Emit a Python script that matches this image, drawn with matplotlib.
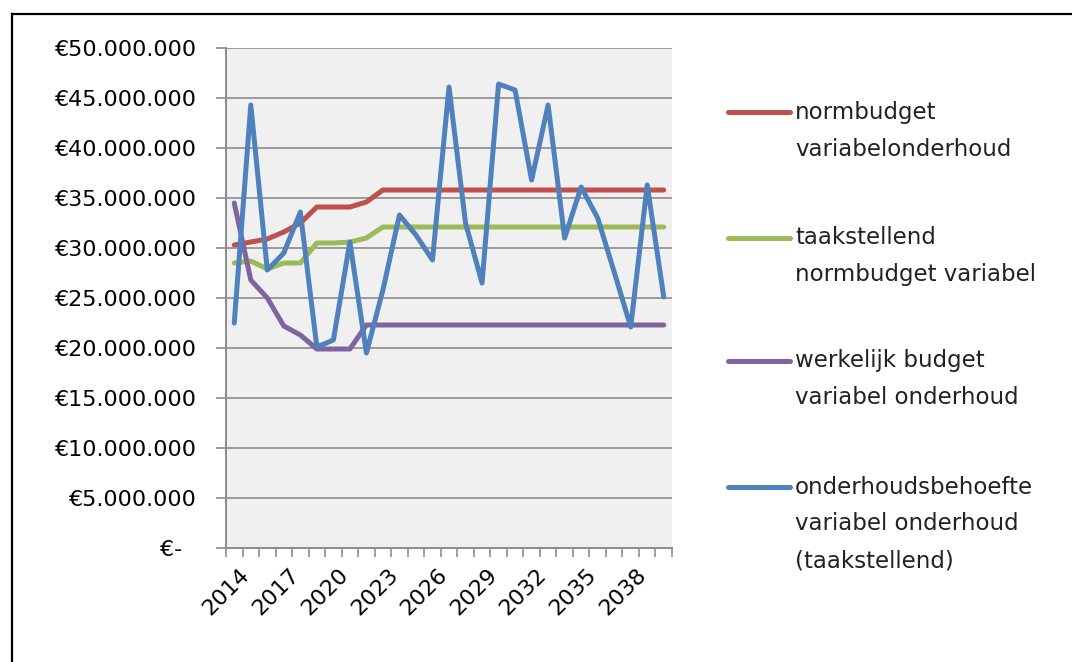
import matplotlib
matplotlib.use("Agg")
import matplotlib.pyplot as plt
import matplotlib.transforms as mtransforms
from matplotlib.lines import Line2D
from matplotlib.ticker import FixedLocator, FuncFormatter

# Jaren en bedragen (in miljoen euro) per reeks
years = list(range(2014, 2041))

normbudget = [30.3, 30.6, 30.9, 31.6, 32.5, 34.1, 34.1, 34.1, 34.6] + [35.8] * 18
taakstellend = [28.5, 28.7, 27.9, 28.5, 28.5, 30.5, 30.5, 30.6, 31.0] + [32.1] * 18
werkelijk = [34.5, 26.8, 25.0, 22.2, 21.3, 19.9, 19.9, 19.9, 22.3] + [22.3] * 18
behoefte = [22.5, 44.3, 27.8, 29.5, 33.6, 20.1, 20.8, 30.6, 19.5, 25.8,
            33.3, 31.3, 28.8, 46.1, 32.5, 26.5, 46.4, 45.8, 36.8, 44.3,
            31.0, 36.1, 33.0, 27.6, 22.1, 36.3, 25.1]

series = [
    ("normbudget\nvariabelonderhoud", normbudget, "#C0504D"),
    ("taakstellend\nnormbudget variabel", taakstellend, "#9BBB59"),
    ("werkelijk budget\nvariabel onderhoud", werkelijk, "#8064A2"),
    ("onderhoudsbehoefte\nvariabel onderhoud\n(taakstellend)", behoefte, "#4F81BD"),
]

plt.rcParams["font.family"] = ["DejaVu Sans"]

fig = plt.figure(figsize=(10.72, 6.62), dpi=100)
ax = fig.add_axes([226 / 1072, 1 - 548 / 662, 446 / 1072, 500 / 662])
ax.set_facecolor("#F0F0F0")

x = list(range(len(years)))
for label, values, color in series:
    ax.plot(x, [v * 1e6 for v in values], color=color, linewidth=3.6,
            solid_capstyle="round", solid_joinstyle="round", zorder=3)

# y-as in euro's
ax.set_ylim(0, 50e6)
ax.set_yticks([i * 5e6 for i in range(11)])

def euro(v, pos):
    if v == 0:
        return "€-  "
    return "€" + f"{int(v):,}".replace(",", ".")

ax.yaxis.set_major_formatter(FuncFormatter(euro))
ax.grid(axis="y", color="#8C8C8C", linewidth=1.2, zorder=1)
ax.set_axisbelow(True)

# categorie-as: streepjes tussen de jaren, label elke 3 jaar
ax.set_xlim(-0.5, len(years) - 0.5)
ax.xaxis.set_major_locator(FixedLocator(x[::3]))
ax.set_xticklabels([str(y) for y in years[::3]])
ax.xaxis.set_minor_locator(FixedLocator([i - 0.5 for i in range(len(years) + 1)]))
ax.tick_params(axis="x", which="major", length=0, pad=12, labelsize=16)
ax.tick_params(axis="x", which="minor", length=6.5, width=1.2, color="#8C8C8C", direction="out")
ax.tick_params(axis="y", length=7, width=1.2, color="#8C8C8C", pad=14, labelsize=16)
shift = mtransforms.ScaledTranslation(5 / 100, 0, fig.dpi_scale_trans)
for lbl in ax.get_xticklabels():
    lbl.set_rotation(45)
    lbl.set_ha("right")
    lbl.set_rotation_mode("anchor")
    lbl.set_transform(lbl.get_transform() + shift)

for side in ("top", "right"):
    ax.spines[side].set_visible(False)
for side in ("left", "bottom"):
    ax.spines[side].set_color("#8C8C8C")
    ax.spines[side].set_linewidth(1.4)

# legenda rechts naast de grafiek
entry_top = [112, 238, 361, 487]
for (label, values, color), ytop in zip(series, entry_top):
    yf = 1 - ytop / 662
    fig.add_artist(Line2D([728 / 1072, 790 / 1072], [yf, yf], transform=fig.transFigure,
                          color=color, linewidth=3.6, solid_capstyle="round"))
    for i, line in enumerate(label.split("\n")):
        fig.text(795 / 1072, 1 - (ytop + i * 37) / 662, line, fontsize=16.5,
                 va="center", ha="left", color="#222222")

# kader
fig.add_artist(Line2D([12 / 1072, 12 / 1072], [0, 1 - 14 / 662], transform=fig.transFigure,
                      color="black", linewidth=1.6))
fig.add_artist(Line2D([12 / 1072, 1], [1 - 14 / 662, 1 - 14 / 662], transform=fig.transFigure,
                      color="black", linewidth=1.6))

fig.savefig("out.png", dpi=100)
